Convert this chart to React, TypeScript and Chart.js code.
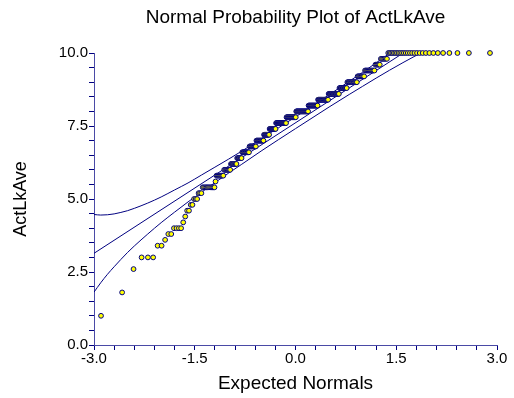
import React, { useEffect, useRef } from "react";
import { Chart, registerables } from "chart.js";

Chart.register(...registerables);

const TITLE = "Normal Probability Plot of ActLkAve";
const X_TITLE = "Expected Normals";
const Y_TITLE = "ActLkAve";

// Observed ActLkAve values (distinct levels) and how many observations sit at each level
const levels = [1.0, 1.8, 2.6, 3.0, 3.4, 3.6, 3.8, 4.0, 4.2, 4.4, 4.6, 4.8, 5.0, 5.2, 5.4, 5.6, 5.8, 6.0, 6.2, 6.4, 6.6, 6.8, 7.0, 7.2, 7.4, 7.6, 7.8, 8.0, 8.2, 8.4, 8.6, 8.8, 9.0, 9.2, 9.4, 9.6, 9.8, 10.0];
const counts = [1, 1, 1, 3, 2, 1, 2, 4, 1, 1, 2, 2, 3, 3, 11, 1, 8, 8, 8, 7, 11, 11, 13, 10, 12, 20, 19, 24, 18, 19, 18, 12, 14, 9, 11, 5, 6, 28];

// Fitted normal line and confidence band
const fitX = [-3, 3];
const fitY = [3.14, 12.08];
const bandX = [-3, -2.9, -2.8, -2.7, -2.6, -2.5, -2.4, -2.2, -2.0, -1.8, -1.6, -1.4, -1.2, -1.0, -0.8, -0.5, 0, 0.5, 0.8, 1.0, 1.2, 1.4, 1.6, 1.8, 2.0, 2.2];
const upperBand = [4.47, 4.45, 4.46, 4.49, 4.54, 4.60, 4.68, 4.86, 5.07, 5.31, 5.55, 5.82, 6.09, 6.36, 6.64, 7.08, 7.81, 8.57, 9.03, 9.34, 9.66, 9.99, 10.32, 10.67, 11.03, 11.42];
const lowerBand = [1.81, 2.13, 2.42, 2.68, 2.93, 3.17, 3.39, 3.80, 4.19, 4.55, 4.90, 5.23, 5.56, 5.88, 6.19, 6.66, 7.41, 8.15, 8.58, 8.86, 9.14, 9.41, 9.67, 9.92, 10.15, 10.36];

// Axis ticks
const xTickValues = [-3.0, -2.7, -2.4, -2.1, -1.8, -1.5, -1.2, -0.9, -0.6, -0.3, 0.0, 0.3, 0.6, 0.9, 1.2, 1.5, 1.8, 2.1, 2.4, 2.7, 3.0];
const xTickLabels = ["-3.0", "", "", "", "", "-1.5", "", "", "", "", "0.0", "", "", "", "", "1.5", "", "", "", "", "3.0"];
const yTickValues = [0, 0.5, 1, 1.5, 2, 2.5, 3, 3.5, 4, 4.5, 5, 5.5, 6, 6.5, 7, 7.5, 8, 8.5, 9, 9.5, 10];
const yTickLabels = ["0.0", "", "", "", "", "2.5", "", "", "", "", "5.0", "", "", "", "", "7.5", "", "", "", "", "10.0"];

// inverse standard normal CDF (Acklam)
function invNorm(p: number): number {
  const a = [-3.969683028665376e1, 2.209460984245205e2, -2.759285104469687e2, 1.38357751867269e2, -3.066479806614716e1, 2.506628277459239];
  const b = [-5.447609879822406e1, 1.615858368580409e2, -1.556989798598866e2, 6.680131188771972e1, -1.328068155288572e1];
  const c = [-7.784894002430293e-3, -3.223964580411365e-1, -2.400758277161838, -2.549732539343734, 4.374664141464968, 2.938163982698783];
  const d = [7.784695709041462e-3, 3.224671290700398e-1, 2.445134137142996, 3.754408661907416];
  const pl = 0.02425;
  if (p < pl) {
    const q = Math.sqrt(-2 * Math.log(p));
    return (((((c[0] * q + c[1]) * q + c[2]) * q + c[3]) * q + c[4]) * q + c[5]) / ((((d[0] * q + d[1]) * q + d[2]) * q + d[3]) * q + 1);
  }
  if (p <= 1 - pl) {
    const q = p - 0.5;
    const r = q * q;
    return ((((((a[0] * r + a[1]) * r + a[2]) * r + a[3]) * r + a[4]) * r + a[5]) * q) / (((((b[0] * r + b[1]) * r + b[2]) * r + b[3]) * r + b[4]) * r + 1);
  }
  const q = Math.sqrt(-2 * Math.log(1 - p));
  return -(((((c[0] * q + c[1]) * q + c[2]) * q + c[3]) * q + c[4]) * q + c[5]) / ((((d[0] * q + d[1]) * q + d[2]) * q + d[3]) * q + 1);
}

function buildPoints() {
  const sorted: number[] = [];
  levels.forEach((v, i) => {
    for (let k = 0; k < counts[i]; k++) sorted.push(v);
  });
  const n = sorted.length;
  return sorted.map((v, i) => ({ x: invNorm((i + 1 - 0.375) / (n + 0.25)), y: v }));
}

const NAVY = "#000080";
const AXIS = "#4a4aa6";
const FONT = '"Liberation Sans", Arial, Helvetica, sans-serif';

export default function App() {
  const ref = useRef<HTMLCanvasElement | null>(null);

  useEffect(() => {
    if (!ref.current) return;
    Chart.defaults.font.family = FONT;
    const lineDs = (label: string, xs: number[], ys: number[]) => ({
      label,
      data: xs.map((x, i) => ({ x, y: ys[i] })),
      showLine: true,
      borderColor: NAVY,
      backgroundColor: NAVY,
      borderWidth: 1,
      pointRadius: 0,
      pointHoverRadius: 0,
      cubicInterpolationMode: "monotone" as const,
      clip: 0,
    });
    const chart = new Chart(ref.current, {
      type: "scatter",
      data: {
        datasets: [
          {
            label: "ActLkAve",
            data: buildPoints(),
            pointRadius: 2.4,
            pointHoverRadius: 2.4,
            pointBackgroundColor: "#ffff00",
            pointBorderColor: NAVY,
            pointBorderWidth: 1,
            clip: false as any,
          },
          lineDs("Upper", bandX, upperBand),
          lineDs("Fit", fitX, fitY),
          lineDs("Lower", bandX, lowerBand),
        ],
      },
      options: {
        responsive: false,
        animation: false,
        events: [],
        layout: { padding: { left: 0, right: 17, top: 0, bottom: 0 } },
        plugins: {
          legend: { display: false },
          tooltip: { enabled: false },
          title: {
            display: true,
            text: TITLE,
            fullSize: false,
            color: "#000",
            font: { size: 19, weight: "normal", family: FONT },
            padding: { top: 6, bottom: 24.2 },
          },
        },
        scales: {
          x: {
            type: "linear",
            position: "bottom",
            min: -3,
            max: 3,
            afterBuildTicks: (s: any) => {
              s.ticks = xTickValues.map((v) => ({ value: v }));
            },
            afterFit: (s: any) => {
              s.height = 53;
            },
            grid: { drawOnChartArea: false, drawTicks: true, tickLength: 5, color: NAVY, lineWidth: 1 },
            border: { display: true, color: AXIS, width: 1 },
            ticks: {
              autoSkip: false,
              maxRotation: 0,
              minRotation: 0,
              padding: 0,
              color: "#000",
              font: { size: 15, family: FONT },
              callback: (_v: any, i: number) => xTickLabels[i] ?? "",
            },
            title: {
              display: true,
              text: X_TITLE,
              color: "#000",
              font: { size: 19, family: FONT },
              padding: { top: 0, bottom: 3.2 },
            },
          },
          y: {
            type: "linear",
            min: 0,
            max: 10,
            afterBuildTicks: (s: any) => {
              s.ticks = yTickValues.map((v) => ({ value: v }));
            },
            afterFit: (s: any) => {
              s.width = 94;
            },
            grid: { drawOnChartArea: false, drawTicks: true, tickLength: 5, color: NAVY, lineWidth: 1 },
            border: { display: true, color: AXIS, width: 1 },
            ticks: {
              autoSkip: false,
              padding: 1,
              color: "#000",
              font: { size: 15, family: FONT },
              callback: (_v: any, i: number) => yTickLabels[i] ?? "",
            },
            title: {
              display: true,
              text: Y_TITLE,
              color: "#000",
              font: { size: 18, family: FONT },
              padding: { top: 10.7, bottom: 0 },
            },
          },
        },
      } as any,
    });
    return () => chart.destroy();
  }, []);

  return (
    <div style={{ position: "fixed", left: 0, top: 0, width: 514, height: 398, background: "#fff" }}>
      <canvas ref={ref} width={514} height={398} style={{ display: "block" }} />
    </div>
  );
}
